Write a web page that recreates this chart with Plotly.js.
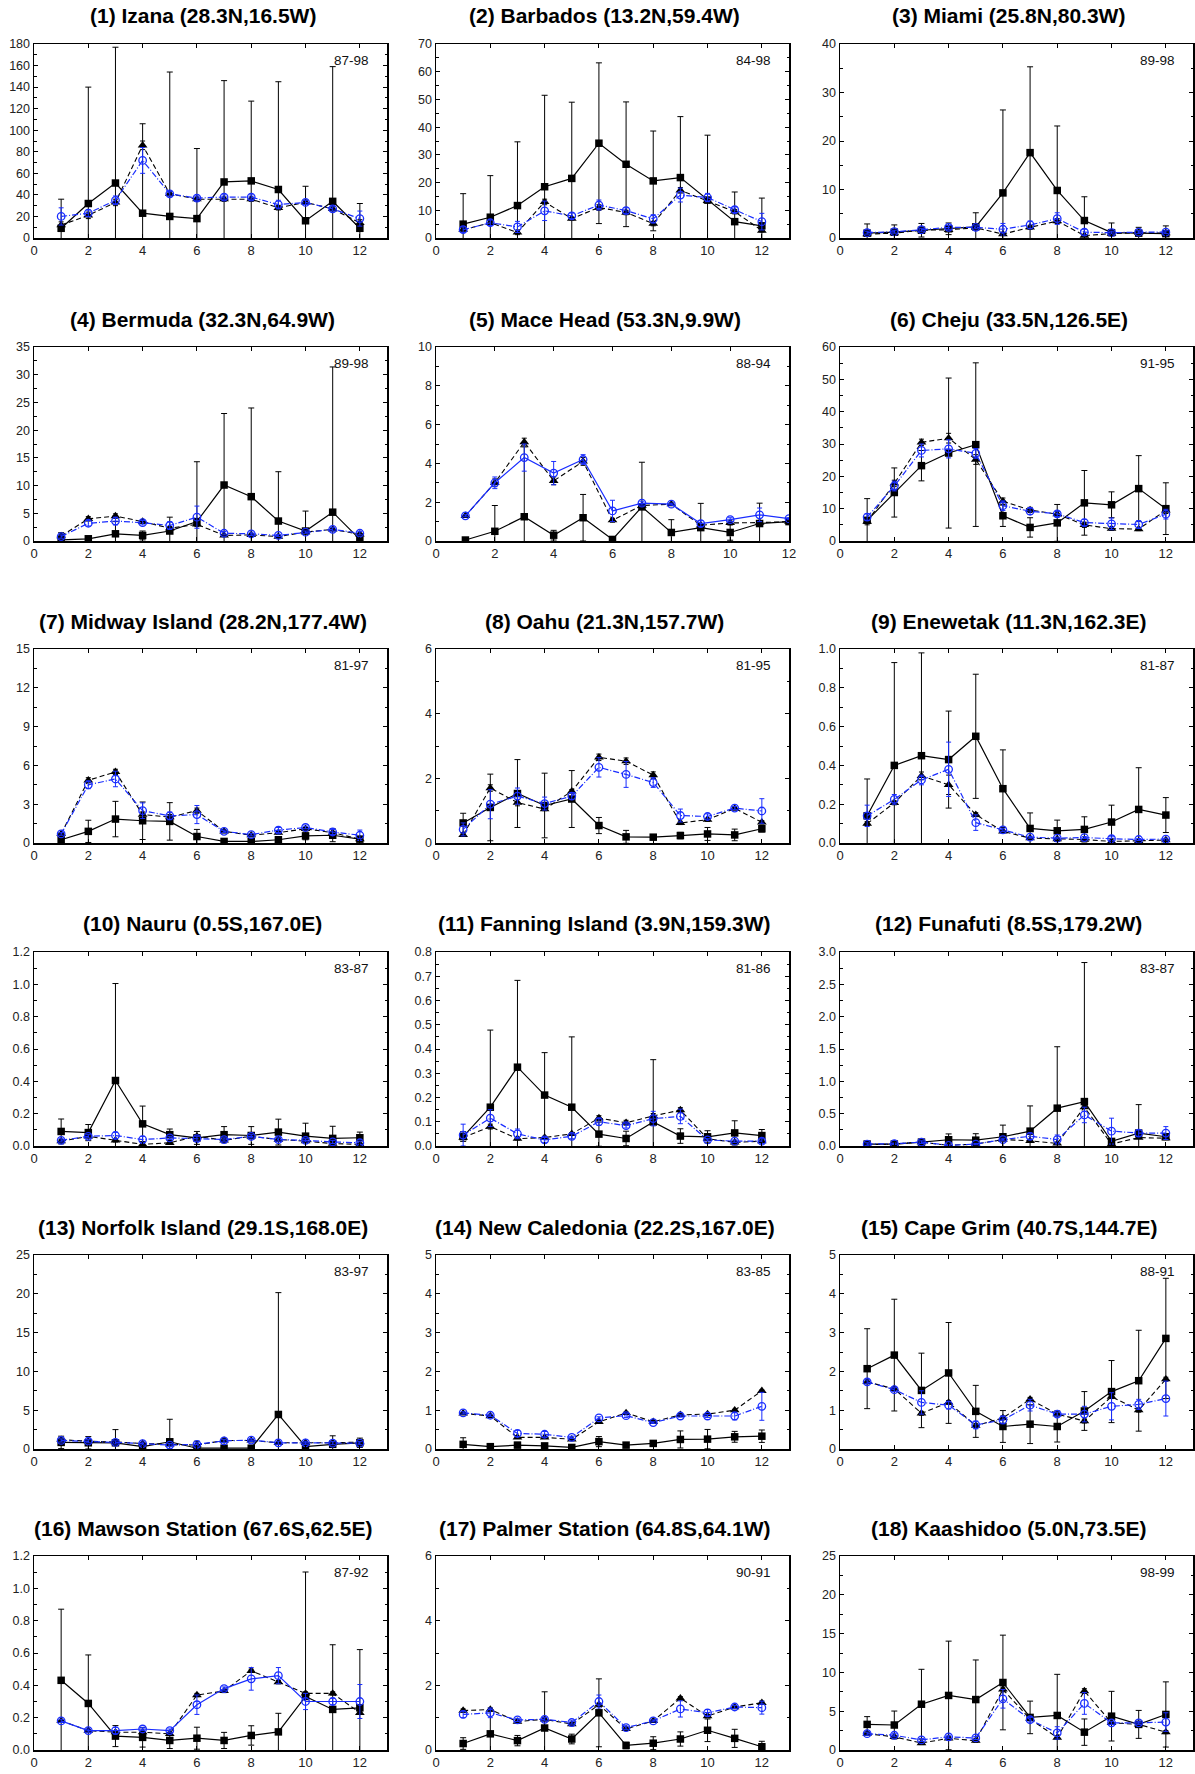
<!DOCTYPE html>
<html>
<head>
<meta charset="utf-8">
<script src="https://cdn.plot.ly/plotly-3.0.1.min.js"></script>
<style>
  html, body { margin: 0; padding: 0; background: #ffffff; }
  #chart { width: 1195px; height: 1774px; }
</style>
</head>
<body>
<div id="chart"></div>
<script>
// ---------------- DATA ----------------
const months = [1, 2, 3, 4, 5, 6, 7, 8, 9, 10, 11, 12];

const stations = [
  "(1) Izana (28.3N,16.5W)", "(2) Barbados (13.2N,59.4W)", "(3) Miami (25.8N,80.3W)",
  "(4) Bermuda (32.3N,64.9W)", "(5) Mace Head (53.3N,9.9W)", "(6) Cheju (33.5N,126.5E)",
  "(7) Midway Island (28.2N,177.4W)", "(8) Oahu (21.3N,157.7W)", "(9) Enewetak (11.3N,162.3E)",
  "(10) Nauru (0.5S,167.0E)", "(11) Fanning Island (3.9N,159.3W)", "(12) Funafuti (8.5S,179.2W)",
  "(13) Norfolk Island (29.1S,168.0E)", "(14) New Caledonia (22.2S,167.0E)", "(15) Cape Grim (40.7S,144.7E)",
  "(16) Mawson Station (67.6S,62.5E)", "(17) Palmer Station (64.8S,64.1W)", "(18) Kaashidoo (5.0N,73.5E)"
];

const periods = ["87-98", "84-98", "89-98", "89-98", "88-94", "91-95",
                 "81-97", "81-95", "81-87", "83-87", "81-86", "83-87",
                 "83-97", "83-85", "88-91", "87-92", "90-91", "98-99"];

// y-axis maximum and label step per panel
const yMax   = [180, 70, 40, 35, 10, 60, 15, 6, 1.0, 1.2, 0.8, 3.0, 25, 5, 5, 1.2, 6, 25];
const yStep  = [20, 10, 10, 5, 2, 10, 3, 2, 0.2, 0.2, 0.1, 0.5, 5, 1, 1, 0.2, 2, 5];
const xMax   = [13, 13, 13, 13, 12, 13, 13, 13, 13, 13, 13, 13, 13, 13, 13, 13, 13, 13];

// Series 1: black filled squares, solid line (mean and +/- error)
const squareMean = [
  [9, 32, 51, 23, 20, 18, 52, 53, 45, 16, 34, 9],
  [5, 7.5, 11.7, 18.5, 21.5, 34.2, 26.6, 20.6, 21.8, 13.7, 5.9, 4.4],
  [1.0, 1.2, 1.6, 1.9, 2.3, 9.3, 17.6, 9.8, 3.6, 1.1, 1.0, 0.9],
  [0.2, 0.4, 1.3, 1.0, 1.8, 3.5, 10.1, 8.0, 3.6, 1.8, 5.2, 0.3],
  [0.05, 0.5, 1.25, 0.3, 1.2, 0.08, 1.76, 0.44, 0.69, 0.44, 0.9, 1.0],
  [6.4, 15, 23.3, 27.2, 29.8, 7.8, 4.2, 5.6, 11.8, 11.2, 16.2, 10],
  [0.25, 0.9, 1.85, 1.72, 1.67, 0.5, 0.12, 0.12, 0.25, 0.55, 0.6, 0.3],
  [0.62, 1.1, 1.53, 1.16, 1.36, 0.54, 0.19, 0.18, 0.23, 0.28, 0.25, 0.44],
  [0.14, 0.40, 0.45, 0.43, 0.55, 0.28, 0.075, 0.063, 0.07, 0.108, 0.173, 0.144],
  [0.09, 0.083, 0.405, 0.137, 0.07, 0.05, 0.07, 0.065, 0.086, 0.061, 0.047, 0.051],
  [0.039, 0.16, 0.325, 0.21, 0.16, 0.049, 0.031, 0.099, 0.041, 0.038, 0.054, 0.043],
  [0.03, 0.03, 0.06, 0.097, 0.09, 0.143, 0.23, 0.585, 0.687, 0.071, 0.2, 0.143],
  [0.85, 0.8, 0.8, 0.3, 0.93, 0.1, 0.1, 0.1, 4.45, 0.3, 0.6, 0.8],
  [0.12, 0.06, 0.1, 0.08, 0.04, 0.19, 0.1, 0.144, 0.246, 0.254, 0.314, 0.33],
  [2.07, 2.42, 1.51, 1.96, 0.97, 0.58, 0.64, 0.58, 0.98, 1.48, 1.76, 2.85],
  [0.431, 0.288, 0.086, 0.078, 0.059, 0.073, 0.059, 0.09, 0.112, 0.331, 0.251, 0.261],
  [0.2, 0.5, 0.29, 0.68, 0.34, 1.15, 0.14, 0.21, 0.34, 0.61, 0.36, 0.1],
  [3.3, 3.22, 5.9, 7.03, 6.5, 8.7, 4.2, 4.45, 2.3, 4.36, 3.3, 4.58]
];
const squareErr = [
  [27, 108, 126, 83, 134, 65, 94, 74, 100, 32, 125, 23],
  [11, 15, 23, 33, 27.5, 29, 22.5, 18, 22, 23.4, 10.7, 10],
  [1.9, 1.5, 1.4, 1.2, 2.9, 17.1, 17.7, 13.3, 4.9, 2.0, 1.2, 1.6],
  [1.3, 0.3, 2.2, 0.8, 2.5, 10.8, 12.9, 16, 8.9, 3.6, 26.2, 1.0],
  [0.05, 1.33, 3.6, 0.25, 1.2, 0.05, 2.3, 0.66, 1.25, 0.4, 1.05, 0],
  [6.7, 7.6, 4.7, 23.2, 25.3, 3.3, 3, 5.7, 10, 4, 10.2, 8],
  [0.2, 0.86, 1.37, 1.45, 1.45, 0.55, 0.1, 0.1, 0.15, 0.3, 0.5, 0.2],
  [0.3, 1.03, 1.05, 1.0, 0.88, 0.25, 0.2, 0.05, 0.1, 0.2, 0.18, 0.1],
  [0.19, 0.53, 0.53, 0.25, 0.32, 0.2, 0.08, 0.055, 0.065, 0.087, 0.215, 0.09],
  [0.077, 0.05, 0.6, 0.11, 0.035, 0.04, 0.05, 0.055, 0.08, 0.08, 0.075, 0.035],
  [0.02, 0.318, 0.358, 0.175, 0.29, 0.05, 0.03, 0.257, 0.03, 0.025, 0.05, 0.025],
  [0.02, 0.02, 0.03, 0.09, 0.1, 0.18, 0.39, 0.95, 2.15, 0.03, 0.44, 0.04],
  [0.8, 0.8, 1.7, 0.5, 2.9, 0.9, 1.2, 0.1, 15.7, 0.2, 1.1, 0.6],
  [0.17, 0.03, 0.07, 0.05, 0.03, 0.13, 0.03, 0.05, 0.22, 0.25, 0.14, 0.16],
  [1.03, 1.44, 0.96, 1.3, 0.67, 0.41, 0.5, 0.4, 0.5, 0.8, 1.3, 1.55],
  [0.44, 0.3, 0.065, 0.06, 0.05, 0.068, 0.05, 0.06, 0.115, 0.77, 0.4, 0.36],
  [0.18, 0.75, 0.16, 1.12, 0.15, 1.05, 0.1, 0.2, 0.22, 0.35, 0.28, 0.17],
  [1.0, 1.8, 4.5, 7, 5.1, 6.1, 2.1, 5.3, 1.7, 3.2, 1.8, 4.2]
];

// Series 2: black filled triangles, dashed line
const triMean = [
  [12, 21, 33, 86, 41, 36, 36, 36, 28, 33, 27, 14],
  [3, 5.5, 2, 13, 7, 11, 9.2, 5.2, 17.2, 13.4, 9.5, 2.7],
  [0.8, 1.0, 1.6, 1.7, 2.1, 0.8, 2.2, 3.5, 0.5, 0.9, 1.1, 1.0],
  [0.9, 4.0, 4.5, 3.5, 2.3, 3.0, 1.0, 1.1, 0.8, 1.6, 2.1, 1.2],
  [1.3, 3.0, 5.1, 3.1, 4.1, 1.07, 1.83, 1.9, 0.81, 0.93, 0.95, 1.0],
  [6, 17.8, 30.5, 31.8, 25.2, 12.3, 9.6, 8.3, 5.0, 3.8, 3.7, 9.5],
  [0.7, 4.85, 5.5, 2.2, 2.0, 2.5, 0.9, 0.6, 0.8, 1.1, 0.8, 0.3],
  [0.25, 1.7, 1.25, 1.05, 1.6, 2.65, 2.53, 2.1, 0.62, 0.72, 1.07, 0.64],
  [0.1, 0.207, 0.346, 0.3, 0.146, 0.06, 0.025, 0.02, 0.018, 0.008, 0.01, 0.015],
  [0.03, 0.06, 0.035, 0.01, 0.02, 0.06, 0.035, 0.06, 0.04, 0.03, 0.015, 0.01],
  [0.035, 0.08, 0.03, 0.035, 0.05, 0.115, 0.096, 0.124, 0.148, 0.03, 0.015, 0.02],
  [0.02, 0.03, 0.06, 0.01, 0.03, 0.1, 0.08, 0.04, 0.6, 0.03, 0.13, 0.12],
  [1.2, 1.0, 0.9, 0.7, 0.6, 0.5, 1.1, 1.1, 0.8, 0.8, 0.8, 0.9],
  [0.92, 0.85, 0.3, 0.3, 0.25, 0.7, 0.93, 0.7, 0.88, 0.9, 1.0, 1.5],
  [1.73, 1.55, 0.92, 1.2, 0.6, 0.8, 1.28, 0.9, 0.72, 1.35, 1.0, 1.8],
  [0.18, 0.12, 0.11, 0.11, 0.1, 0.34, 0.365, 0.49, 0.42, 0.35, 0.35, 0.23],
  [1.22, 1.25, 0.88, 0.95, 0.8, 1.4, 0.65, 0.9, 1.6, 1.05, 1.33, 1.46],
  [2.1, 1.7, 0.9, 1.5, 1.2, 7.8, 4.0, 1.6, 7.6, 3.5, 3.3, 2.3]
];
const triErr = [
  [3, 3, 3, 4, 2, 2, 2, 2, 2, 2, 2, 3],
  [0.5, 0.5, 0.8, 1, 0.5, 1, 0.8, 0.8, 1, 0.8, 0.8, 0.5],
  [0.2, 0.2, 0.3, 0.3, 0.3, 0.3, 0.4, 0.5, 0.2, 0.2, 0.2, 0.2],
  [0.3, 0.4, 0.4, 0.3, 0.3, 0.4, 0.2, 0.2, 0.2, 0.2, 0.2, 0.2],
  [0.05, 0.2, 0.2, 0.2, 0.2, 0.1, 0.1, 0.05, 0.1, 0.1, 0.1, 0.05],
  [1, 1, 1, 1.5, 1.5, 1, 0.8, 0.8, 0.8, 0.5, 0.5, 1],
  [0.1, 0.2, 0.2, 0.2, 0.2, 0.2, 0.1, 0.1, 0.1, 0.1, 0.1, 0.1],
  [0.05, 0.1, 0.1, 0.05, 0.05, 0.1, 0.1, 0.1, 0.05, 0.05, 0.05, 0.05],
  [0.01, 0.01, 0.02, 0.05, 0.01, 0.005, 0.005, 0.005, 0.005, 0.005, 0.005, 0.005],
  [0.01, 0.01, 0.01, 0.01, 0.01, 0.01, 0.01, 0.01, 0.01, 0.01, 0.01, 0.01],
  [0.005, 0.01, 0.005, 0.005, 0.005, 0.01, 0.01, 0.01, 0.01, 0.005, 0.005, 0.005],
  [0.01, 0.01, 0.01, 0.01, 0.01, 0.01, 0.01, 0.01, 0.02, 0.01, 0.01, 0.01],
  [0.1, 0.1, 0.1, 0.1, 0.1, 0.1, 0.1, 0.1, 0.1, 0.1, 0.1, 0.1],
  [0.02, 0.02, 0.02, 0.02, 0.02, 0.02, 0.02, 0.02, 0.02, 0.02, 0.02, 0.02],
  [0.05, 0.05, 0.05, 0.05, 0.05, 0.05, 0.05, 0.05, 0.05, 0.05, 0.05, 0.05],
  [0.005, 0.005, 0.005, 0.005, 0.005, 0.01, 0.01, 0.01, 0.01, 0.01, 0.01, 0.01],
  [0.05, 0.05, 0.05, 0.05, 0.05, 0.05, 0.05, 0.05, 0.05, 0.05, 0.05, 0.05],
  [0.2, 0.2, 0.2, 0.2, 0.2, 0.3, 0.2, 0.2, 0.3, 0.2, 0.2, 0.2]
];

// Series 3: blue open circles, blue line
const circMean = [
  [20, 23, 35, 72, 41, 37, 38, 38, 31, 33, 27, 18],
  [3, 5.5, 4, 9.8, 8, 11.9, 9.9, 6.9, 15.5, 14.6, 10.2, 5.9],
  [1.1, 1.3, 1.7, 2.2, 2.2, 1.8, 2.7, 4.0, 1.2, 1.1, 1.2, 1.2],
  [0.8, 3.2, 3.6, 3.3, 2.8, 4.3, 1.4, 1.3, 1.0, 1.6, 2.1, 1.4],
  [1.3, 3.0, 4.3, 3.5, 4.2, 1.55, 1.95, 1.9, 0.9, 1.1, 1.35, 1.15],
  [7.4, 17, 28, 28.5, 27.1, 10.9, 9.2, 8.4, 5.7, 5.3, 5.1, 8.3],
  [0.7, 4.5, 4.95, 2.5, 2.1, 2.2, 0.9, 0.65, 1.0, 1.2, 0.85, 0.6],
  [0.42, 1.2, 1.45, 1.22, 1.45, 2.34, 2.12, 1.87, 0.85, 0.82, 1.08, 0.99],
  [0.14, 0.225, 0.325, 0.38, 0.105, 0.068, 0.03, 0.025, 0.028, 0.022, 0.018, 0.02],
  [0.035, 0.06, 0.065, 0.04, 0.05, 0.045, 0.04, 0.06, 0.04, 0.035, 0.025, 0.02],
  [0.045, 0.115, 0.05, 0.025, 0.04, 0.1, 0.084, 0.113, 0.122, 0.025, 0.02, 0.02],
  [0.03, 0.035, 0.06, 0.01, 0.03, 0.1, 0.15, 0.1, 0.48, 0.23, 0.2, 0.2],
  [1.1, 1.0, 0.85, 0.7, 0.5, 0.6, 1.05, 1.15, 0.8, 0.8, 0.75, 0.75],
  [0.93, 0.87, 0.4, 0.38, 0.3, 0.8, 0.86, 0.68, 0.85, 0.85, 0.85, 1.1],
  [1.73, 1.53, 1.2, 1.13, 0.62, 0.75, 1.13, 0.9, 0.9, 1.1, 1.15, 1.3],
  [0.18, 0.12, 0.12, 0.13, 0.12, 0.28, 0.38, 0.44, 0.46, 0.3, 0.3, 0.3],
  [1.1, 1.15, 0.93, 0.95, 0.85, 1.5, 0.69, 0.9, 1.27, 1.15, 1.33, 1.31],
  [2.1, 1.9, 1.3, 1.7, 1.55, 6.6, 3.9, 2.2, 6.0, 3.5, 3.5, 3.6]
];
const circErr = [
  [8, 3, 4, 12, 2, 2, 2, 2, 4, 2, 2, 7],
  [1, 1, 2, 3.5, 1, 1.8, 1, 1.5, 2.5, 1.5, 1, 3],
  [0.3, 0.3, 0.3, 0.4, 0.3, 1.2, 0.8, 1.2, 0.6, 0.3, 0.3, 0.3],
  [0.3, 0.5, 0.7, 0.4, 0.7, 2.0, 0.3, 0.3, 0.2, 0.2, 0.3, 0.3],
  [0.05, 0.3, 0.7, 0.6, 0.25, 0.55, 0.1, 0.05, 0.15, 0.1, 0.35, 0.05],
  [1, 1.5, 2, 2.8, 1.5, 1.5, 1, 0.8, 1, 1.8, 1.2, 1.5],
  [0.1, 0.3, 0.6, 0.6, 0.3, 0.7, 0.1, 0.1, 0.2, 0.1, 0.2, 0.4],
  [0.2, 0.45, 0.25, 0.2, 0.1, 0.3, 0.4, 0.15, 0.2, 0.08, 0.05, 0.38],
  [0.055, 0.025, 0.025, 0.14, 0.04, 0.008, 0.005, 0.005, 0.005, 0.01, 0.005, 0.005],
  [0.01, 0.01, 0.02, 0.02, 0.01, 0.015, 0.01, 0.01, 0.01, 0.01, 0.01, 0.01],
  [0.045, 0.035, 0.02, 0.01, 0.01, 0.015, 0.01, 0.03, 0.03, 0.005, 0.005, 0.01],
  [0.02, 0.01, 0.02, 0.01, 0.01, 0.02, 0.05, 0.07, 0.12, 0.2, 0.05, 0.1],
  [0.2, 0.2, 0.2, 0.2, 0.2, 0.2, 0.2, 0.2, 0.2, 0.2, 0.2, 0.2],
  [0.03, 0.03, 0.08, 0.07, 0.03, 0.03, 0.05, 0.02, 0.03, 0.04, 0.1, 0.36],
  [0.05, 0.05, 0.3, 0.1, 0.1, 0.1, 0.15, 0.05, 0.2, 0.35, 0.13, 0.45],
  [0.01, 0.01, 0.02, 0.01, 0.01, 0.06, 0.01, 0.07, 0.05, 0.05, 0.02, 0.105],
  [0.1, 0.15, 0.05, 0.05, 0.05, 0.2, 0.05, 0.03, 0.25, 0.1, 0.05, 0.2],
  [0.2, 0.2, 0.2, 0.2, 0.2, 1.2, 0.3, 0.8, 1.4, 0.2, 0.2, 1.2]
];

// blue line style per panel
const blueDash = ["dashdot","dashdot","dashdot","dashdot","solid","dashdot",
                  "dashdot","dashdot","dashdot","dashdot","dashdot","dashdot",
                  "dashdot","dashdot","dashdot","solid","dashdot","dashdot"];

// ---------------- LAYOUT GEOMETRY ----------------
const W = 1195, H = 1774;
const colLeft = [34, 436, 840];
const plotW = 353;
const rowTop = [44, 347, 649, 952, 1255, 1556];
const plotH = 194;

const FONT = "Liberation Sans, Arial, Helvetica, sans-serif";
const BLUE = "rgb(25,45,255)";

const traces = [];
const layout = {
  width: W, height: H,
  margin: {l: 0, r: 0, t: 0, b: 0},
  paper_bgcolor: "#ffffff",
  plot_bgcolor: "#ffffff",
  showlegend: false,
  font: {family: FONT, color: "#111"},
  annotations: []
};

for (let i = 0; i < 18; i++) {
  const r = Math.floor(i / 3), c = i % 3;
  const sfx = i === 0 ? "" : String(i + 1);
  const xa = "x" + sfx, ya = "y" + sfx;
  const x0 = colLeft[c] / W, x1 = (colLeft[c] + plotW) / W;
  const yTop = 1 - rowTop[r] / H, yBot = 1 - (rowTop[r] + plotH) / H;
  const decimals = yStep[i] < 1 ? ".1f" : "";

  layout["xaxis" + sfx] = {
    domain: [x0, x1], anchor: ya, range: [0, xMax[i]],
    tick0: 0, dtick: 2, ticks: "inside", ticklen: 4, tickwidth: 1, tickcolor: "#000",
    showline: true, linecolor: "#000", linewidth: 1.5, mirror: "ticks",
    showgrid: false, zeroline: false, fixedrange: true,
    tickfont: {family: FONT, size: 13, color: "#222"}
  };
  layout["yaxis" + sfx] = {
    domain: [yBot, yTop], anchor: xa, range: [0, yMax[i]],
    tick0: 0, dtick: yStep[i], tickformat: decimals,
    ticks: "inside", ticklen: 4, tickwidth: 1, tickcolor: "#000",
    minor: {ticks: "inside", ticklen: 2.5, dtick: yStep[i] / 2, tickcolor: "#000", showgrid: false},
    showline: true, linecolor: "#000", linewidth: 1.5, mirror: "ticks",
    showgrid: false, zeroline: false, fixedrange: true,
    tickfont: {family: FONT, size: 12.5, color: "#222"}
  };

  // black squares, solid
  traces.push({
    type: "scatter", mode: "lines+markers", x: months, y: squareMean[i],
    xaxis: xa, yaxis: ya,
    line: {color: "#000", width: 1.2},
    marker: {symbol: "square", size: 7.5, color: "#000"},
    error_y: {type: "data", array: squareErr[i], symmetric: true, color: "#000", thickness: 1, width: 3}
  });
  // black triangles, dashed
  traces.push({
    type: "scatter", mode: "lines+markers", x: months, y: triMean[i],
    xaxis: xa, yaxis: ya,
    line: {color: "#000", width: 1.1, dash: "5px,3px"},
    marker: {symbol: "triangle-up", size: 8.5, color: "#000"},
    error_y: {type: "data", array: triErr[i], symmetric: true, color: "#000", thickness: 1, width: 2.5}
  });
  // blue open circles
  traces.push({
    type: "scatter", mode: "lines+markers", x: months, y: circMean[i],
    xaxis: xa, yaxis: ya,
    line: {color: BLUE, width: 1.2, dash: blueDash[i] === "solid" ? "solid" : "6px,2px,1px,2px"},
    marker: {symbol: "circle-open", size: 7.5, color: BLUE, line: {width: 1.3, color: BLUE}},
    error_y: {type: "data", array: circErr[i], symmetric: true, color: BLUE, thickness: 1, width: 2.5}
  });

  // station title
  layout.annotations.push({
    xref: "paper", yref: "paper",
    x: (colLeft[c] + plotW / 2 - 8) / W, y: 1 - (rowTop[r] - 28) / H,
    xanchor: "center", yanchor: "middle", showarrow: false,
    text: "<b>" + stations[i] + "</b>",
    font: {family: FONT, size: 21, color: "#000"}
  });
  // period label
  layout.annotations.push({
    xref: xa + " domain", yref: ya + " domain",
    x: 0.955, y: 0.913, xanchor: "right", yanchor: "middle", showarrow: false,
    text: periods[i],
    font: {family: FONT, size: 13.5, color: "#111"}
  });
}

Plotly.newPlot("chart", traces, layout, {staticPlot: true, displayModeBar: false});
</script>
</body>
</html>
